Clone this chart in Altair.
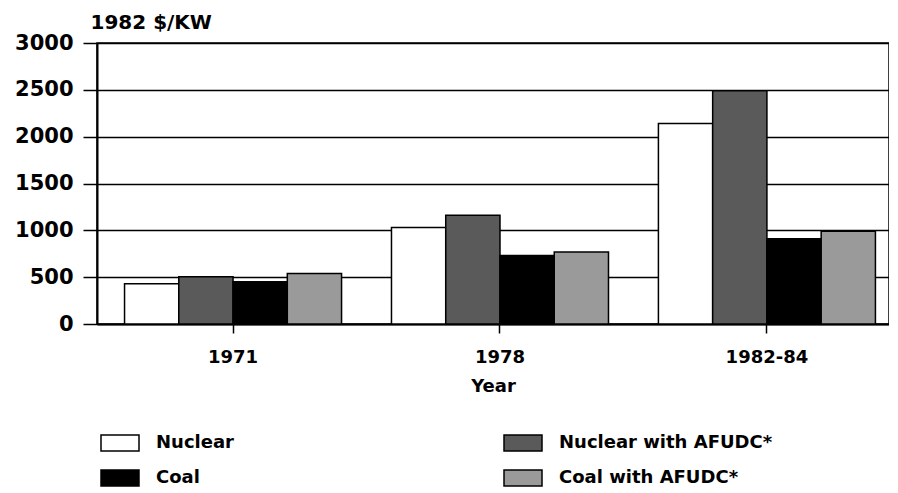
import altair as alt
import pandas as pd

years = ["1971", "1978", "1982-84"]
series = ["Nuclear", "Nuclear with AFUDC*", "Coal", "Coal with AFUDC*"]
nuclear = [430, 1030, 2140]
nuclear_afudc = [505, 1160, 2490]
coal = [450, 730, 910]
coal_afudc = [540, 770, 990]
y_ticks = [0, 500, 1000, 1500, 2000, 2500, 3000]
series_colors = {"Nuclear": "#ffffff", "Nuclear with AFUDC*": "#5a5a5a",
                 "Coal": "#000000", "Coal with AFUDC*": "#9a9a9a"}
legend_order = ["Nuclear", "Coal", "Nuclear with AFUDC*", "Coal with AFUDC*"]

rows = []
for s, vals in zip(series, [nuclear, nuclear_afudc, coal, coal_afudc]):
    for yr, v in zip(years, vals):
        rows.append({"Year": yr, "Series": s, "Value": v})
df = pd.DataFrame(rows)

FONT = "DejaVu Sans"
rect_path = "M-1,-0.42L1,-0.42L1,0.42L-1,0.42Z"

chart = alt.Chart(df).mark_bar(stroke="black", strokeWidth=1.5).encode(
    x=alt.X(
        "Year:N", sort=years,
        scale=alt.Scale(paddingInner=0.187, paddingOuter=0.077, align=0.67),
        axis=alt.Axis(
            title="Year", labelAngle=0, tickSize=9, tickWidth=1.5, tickColor="black",
            domainColor="black", domainWidth=2, labelPadding=15, titlePadding=11,
            labelFont=FONT, labelFontSize=18, labelFontWeight="bold", labelColor="black",
            titleFont=FONT, titleFontSize=18, titleFontWeight="bold", titleColor="black",
            grid=False,
        ),
    ),
    xOffset=alt.XOffset("Series:N", sort=series, scale=alt.Scale(paddingInner=0, paddingOuter=0)),
    y=alt.Y(
        "Value:Q",
        scale=alt.Scale(domain=[0, 3000], nice=False),
        axis=alt.Axis(
            values=y_ticks, format="d", title="1982 $/KW", titleAngle=0, titleAlign="left",
            titleBaseline="alphabetic", titleX=-7, titleY=-15,
            tickSize=14, tickWidth=1.5, tickColor="black", labelPadding=10,
            domainColor="black", domainWidth=2,
            grid=True, gridColor="black", gridWidth=1.5, gridOpacity=1,
            labelFont=FONT, labelFontSize=21, labelFontWeight="bold", labelColor="black",
            titleFont=FONT, titleFontSize=20, titleFontWeight="bold", titleColor="black",
        ),
    ),
    fill=alt.Fill(
        "Series:N",
        scale=alt.Scale(domain=legend_order, range=[series_colors[s] for s in legend_order]),
        legend=alt.Legend(
            title=None, orient="none", legendX=3, legendY=380, columns=2,
            columnPadding=267, rowPadding=4, symbolType=rect_path, symbolSize=1444,
            symbolStrokeColor="black", symbolStrokeWidth=1.5, symbolOpacity=1,
            labelFont=FONT, labelFontSize=18, labelFontWeight="bold", labelColor="black",
            labelOffset=16, labelLimit=0,
        ),
    ),
).properties(
    width=792, height=281,
    padding={"left": 6, "top": 4, "right": 0, "bottom": 0},
).configure_view(stroke="black", strokeWidth=1.5)

chart.save("out.html", embed_options={"renderer": "svg", "actions": False})
